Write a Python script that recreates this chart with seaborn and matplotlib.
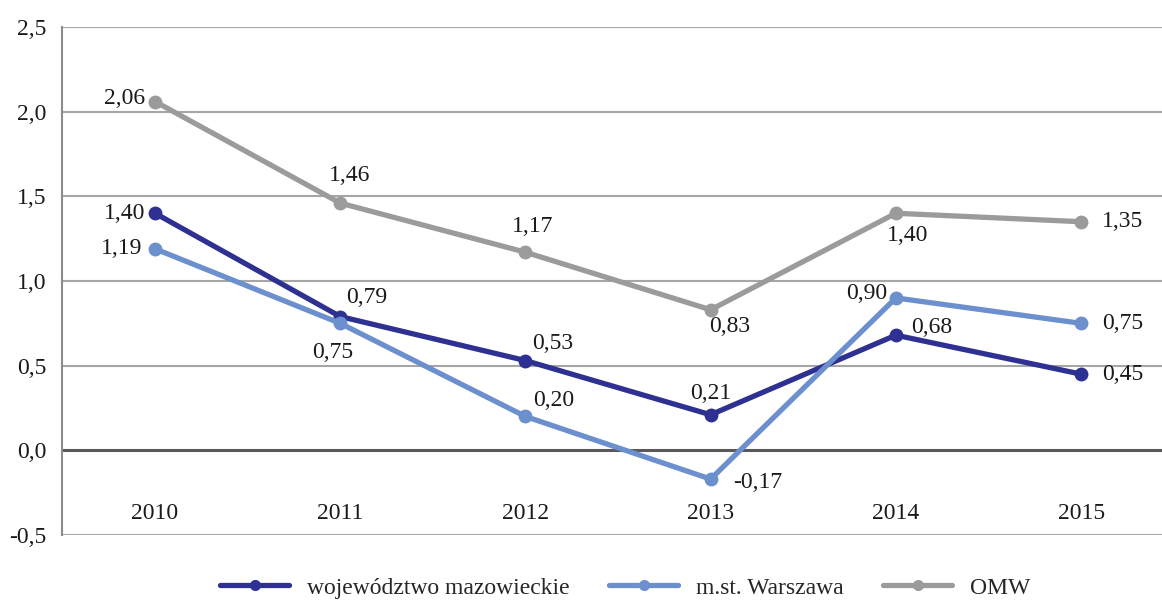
import numpy as np
import pandas as pd
import matplotlib.pyplot as plt
import seaborn as sns

# dane z wykresu
years = [2010, 2011, 2012, 2013, 2014, 2015]
mazowieckie = [1.40, 0.79, 0.53, 0.21, 0.68, 0.45]
warszawa = [1.19, 0.75, 0.20, -0.17, 0.90, 0.75]
omw = [2.06, 1.46, 1.17, 0.83, 1.40, 1.35]
series_names = ["województwo mazowieckie", "m.st. Warszawa", "OMW"]
y_ticks = [-0.5, 0.0, 0.5, 1.0, 1.5, 2.0, 2.5]

colors = ["#2E3192", "#6C8FCD", "#9B9B9B"]

df = pd.DataFrame({
    "rok": years * 3,
    "wartosc": mazowieckie + warszawa + omw,
    "seria": [n for n in series_names for _ in years],
})

# przesunięcia etykiet (piksele) i wyrównanie
label_pos = {
    series_names[0]: [(-10, 0, "right"), (6, 19, "left"), (7, 17, "left"),
                      (0, 21, "center"), (15, 8, "left"), (21, 0, "left")],
    series_names[1]: [(-13, 0, "right"), (-8, -29, "center"), (8, 16, "left"),
                      (22, -3, "left"), (-9, 4, "right"), (21, 0, "left")],
    series_names[2]: [(-10, 3, "right"), (9, 28, "center"), (7, 26, "center"),
                      (19, -17, "center"), (12, -22, "center"), (21, 0, "left")],
}

sns.set_style("white")
plt.rcParams["font.family"] = ["Liberation Serif", "DejaVu Serif"]

fig = plt.figure(figsize=(11.62, 6.03), dpi=100)
ax = fig.add_axes([0.0534, 0.1128, 0.9466, 0.8424])

for y in y_ticks:
    ax.axhline(y, color="#595959" if y == 0 else "#A6A6A6",
               lw=2.2 if y == 0 else 1.5, zorder=1)

sns.lineplot(data=df, x="rok", y="wartosc", hue="seria", palette=colors,
             hue_order=series_names, marker="o", markersize=10,
             markeredgewidth=0, linewidth=3.8, ax=ax, zorder=3)

vals = {series_names[0]: mazowieckie, series_names[1]: warszawa, series_names[2]: omw}
for name in series_names:
    for x, v, (dx, dy, ha) in zip(years, vals[name], label_pos[name]):
        ax.annotate(f"{v:.2f}".replace(".", ","), (x, v), xytext=(dx, dy),
                    textcoords="offset pixels", ha=ha, va="center",
                    fontsize=17, color="#1a1a1a", zorder=5)

# etykiety lat pod linią zera
ax.set_xticks([])
for x in years:
    ax.text(x, -0.373, str(x), ha="center", va="center", fontsize=17, color="#1a1a1a")

ax.set_xlim(2009.498, 2015.437)
ax.set_ylim(-0.5, 2.5)
ax.set_yticks(y_ticks)
ax.set_yticklabels([f"{t:.1f}".replace(".", ",") for t in y_ticks],
                   fontsize=17, color="#1a1a1a")
ax.tick_params(axis="y", length=0, pad=11)
ax.set_xlabel("")
ax.set_ylabel("")
for s in ["top", "right", "bottom"]:
    ax.spines[s].set_visible(False)
ax.spines["left"].set_color("#8C8C8C")
ax.spines["left"].set_linewidth(1.5)

handles, labels = ax.get_legend_handles_labels()
for h in handles:
    h.set_markersize(8)
ax.legend(handles, labels, loc="center", bbox_to_anchor=(0.538, 0.025),
          bbox_transform=fig.transFigure, ncol=3, frameon=False, fontsize=17,
          handlelength=2.9, columnspacing=1.7, handletextpad=0.75)

fig.savefig("out.png", dpi=100)
